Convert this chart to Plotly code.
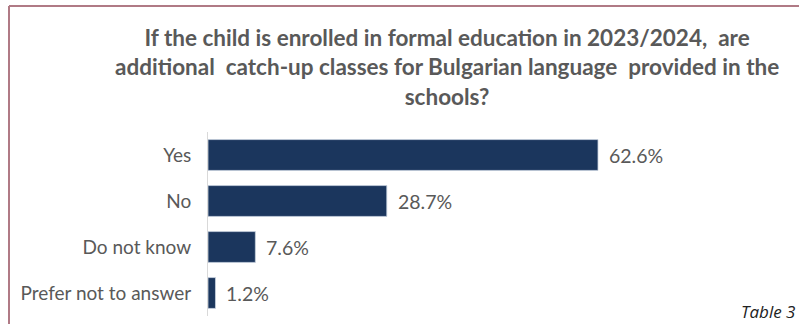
import plotly.graph_objects as go

categories = ["Yes", "No", "Do not know", "Prefer not to answer"]
values = [62.6, 28.7, 7.6, 1.2]
value_labels = ["62.6%", "28.7%", "7.6%", "1.2%"]

title_text = ("If the child is enrolled in formal education in 2023/2024,  are<br>"
              "additional  catch-up classes for Bulgarian language  provided in the<br>"
              "schools?")
caption_text = "Table 3"

W, H = 799, 324
L, R, T, B = 208, 0, 132, 8
plot_w = W - L - R
plot_h = H - T - B
px_per_unit = 6.23

BAR = "#1b365d"
GREY = "#595959"
FRAME = "#b07a85"

def px_x(x):
    return (x - L) / plot_w

def px_y(y):
    return 1 - (y - T) / plot_h

fig = go.Figure(go.Bar(
    y=categories,
    x=values,
    orientation="h",
    marker=dict(color=BAR, line=dict(color="#c9d3e0", width=0.8)),
    width=0.67,
    hoverinfo="skip",
))

for cat, v, lab in zip(categories, values, value_labels):
    fig.add_annotation(x=v, y=cat, text=lab, showarrow=False, xanchor="left",
                       xshift=9, font=dict(family="Lato", size=19.5, color=GREY))

fig.add_annotation(xref="paper", yref="paper", x=px_x(447), y=px_y(22),
                   xanchor="center", yanchor="top", text=title_text, showarrow=False,
                   align="center",
                   font=dict(family="Lato", size=22.5, color=GREY, weight="bold"))

fig.add_annotation(xref="paper", yref="paper", x=px_x(739), y=px_y(311),
                   xanchor="left", yanchor="middle", text=f"<i>{caption_text}</i>",
                   showarrow=False, font=dict(family="Open Sans", size=17, color="#222222"))

# frame around the chart (top and left edges)
fig.add_shape(type="line", xref="paper", yref="paper",
              x0=px_x(9), y0=px_y(6), x1=px_x(W + 5), y1=px_y(6),
              line=dict(color=FRAME, width=2))
fig.add_shape(type="line", xref="paper", yref="paper",
              x0=px_x(9), y0=px_y(6), x1=px_x(9), y1=px_y(H + 5),
              line=dict(color=FRAME, width=2))

fig.update_layout(
    width=W, height=H,
    margin=dict(l=L, r=R, t=T, b=B),
    paper_bgcolor="white", plot_bgcolor="white",
    showlegend=False,
    bargap=0.33,
    xaxis=dict(range=[0, plot_w / px_per_unit], visible=False, fixedrange=True),
    yaxis=dict(autorange="reversed", showline=True, linecolor="#d9d9d9", linewidth=1,
               showgrid=False, ticks="", ticklabelstandoff=12,
               tickfont=dict(family="Lato", size=19, color=GREY), fixedrange=True),
)

fig.write_html("out.html", config={"displayModeBar": False})
